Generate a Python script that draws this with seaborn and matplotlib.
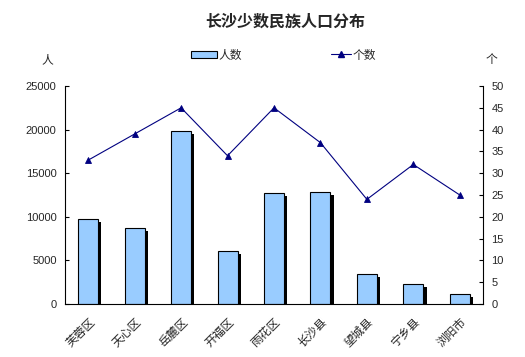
import numpy as np
import pandas as pd
import matplotlib
matplotlib.use("Agg")
import matplotlib.pyplot as plt
import matplotlib.patheffects as pe
import matplotlib.transforms as mtransforms
import seaborn as sns
from matplotlib.patches import Patch
from matplotlib.lines import Line2D

categories = ["芙蓉区", "天心区", "岳麓区", "开福区", "雨花区", "长沙县", "望城县", "宁乡县", "浏阳市"]
people = [9750, 8700, 19850, 6050, 12700, 12850, 3450, 2300, 1150]
counts = [33, 39, 45, 34, 45, 37, 24, 32, 25]
left_ticks = [0, 5000, 10000, 15000, 20000, 25000]
right_ticks = [0, 5, 10, 15, 20, 25, 30, 35, 40, 45, 50]

sns.set_style("white")
plt.rcParams['font.family'] = ['Liberation Sans', 'Noto Sans CJK SC', 'DejaVu Sans']
cjk = ['Noto Sans CJK SC', 'DejaVu Sans']

df = pd.DataFrame({"cat": categories, "people": people, "count": counts})

fig = plt.figure(figsize=(5.25, 3.57), dpi=100)
ax = fig.add_axes([65/525, 1-304/357, (483-65)/525, (304-86)/357])

sns.barplot(data=df, x="cat", y="people", ax=ax, color="#99CCFF", width=0.43,
            edgecolor="black", linewidth=0.8, saturation=1)
for p in ax.patches:
    p.set_path_effects([pe.SimplePatchShadow(offset=(2.3, -2.3), shadow_rgbFace="black", alpha=1.0),
                        pe.Normal()])

ax.set_ylim(0, 25000)
ax.set_yticks(left_ticks)
ax.set_xlim(-0.5, len(categories) - 0.5)
ax.set_xlabel("")
ax.set_ylabel("")
ax.set_xticks(range(len(categories)))
ax.set_xticklabels(categories, rotation=45, ha="right", rotation_mode="anchor", family=cjk, fontsize=8.5)
shift = mtransforms.ScaledTranslation(-9/100, 0, fig.dpi_scale_trans)
for lab in ax.get_xticklabels():
    lab.set_transform(lab.get_transform() + shift)
ax.set_xticks(np.arange(-0.5, len(categories), 1), minor=True)
ax.tick_params(axis="x", which="major", length=0, pad=8)
ax.tick_params(axis="x", which="minor", length=3, direction="in", width=0.8, color="black")
ax.tick_params(axis="y", length=3, direction="in", width=0.8, color="black", labelsize=8, pad=6, left=True)
for s in ["left", "bottom"]:
    ax.spines[s].set_color("black")
    ax.spines[s].set_linewidth(0.8)
ax.spines["top"].set_visible(False)
ax.spines["right"].set_visible(False)

ax2 = ax.twinx()
sns.pointplot(data=df, x="cat", y="count", ax=ax2, color="#000080", markers="^",
              linestyles="-", linewidth=0.8, markersize=4.5)
ax2.set_ylim(0, 50)
ax2.set_yticks(right_ticks)
ax2.set_xlim(-0.5, len(categories) - 0.5)
ax2.set_ylabel("")
ax2.set_xlabel("")
ax2.tick_params(axis="y", length=3, direction="in", width=0.8, color="black", labelsize=8, pad=6, right=True)
ax2.spines["right"].set_color("black")
ax2.spines["right"].set_linewidth(0.8)
for s in ["top", "left", "bottom"]:
    ax2.spines[s].set_visible(False)

fig.text(285/525, 1-22/357, "长沙少数民族人口分布", ha="center", va="center",
         fontsize=11.5, fontweight="bold", family=cjk)
fig.text(47/525, 1-60/357, "人", ha="center", va="center", fontsize=8.5, family=cjk)
fig.text(491/525, 1-60/357, "个", ha="center", va="center", fontsize=8.5, family=cjk)

h1 = Patch(facecolor="#99CCFF", edgecolor="black", linewidth=0.8)
h2 = Line2D([], [], color="#000080", marker="^", markersize=4.5, linewidth=0.8)
leg1 = fig.legend([h1], ["人数"], loc="center left", bbox_to_anchor=(185/525, 1-55/357),
                  frameon=False, prop={"family": cjk, "size": 8.5},
                  handlelength=2.2, handletextpad=0.15, handleheight=0.6, borderpad=0)
leg2 = fig.legend([h2], ["个数"], loc="center left", bbox_to_anchor=(325/525, 1-55/357),
                  frameon=False, prop={"family": cjk, "size": 8.5},
                  handlelength=1.7, handletextpad=0.15, borderpad=0)

fig.savefig("out.png", dpi=100)
